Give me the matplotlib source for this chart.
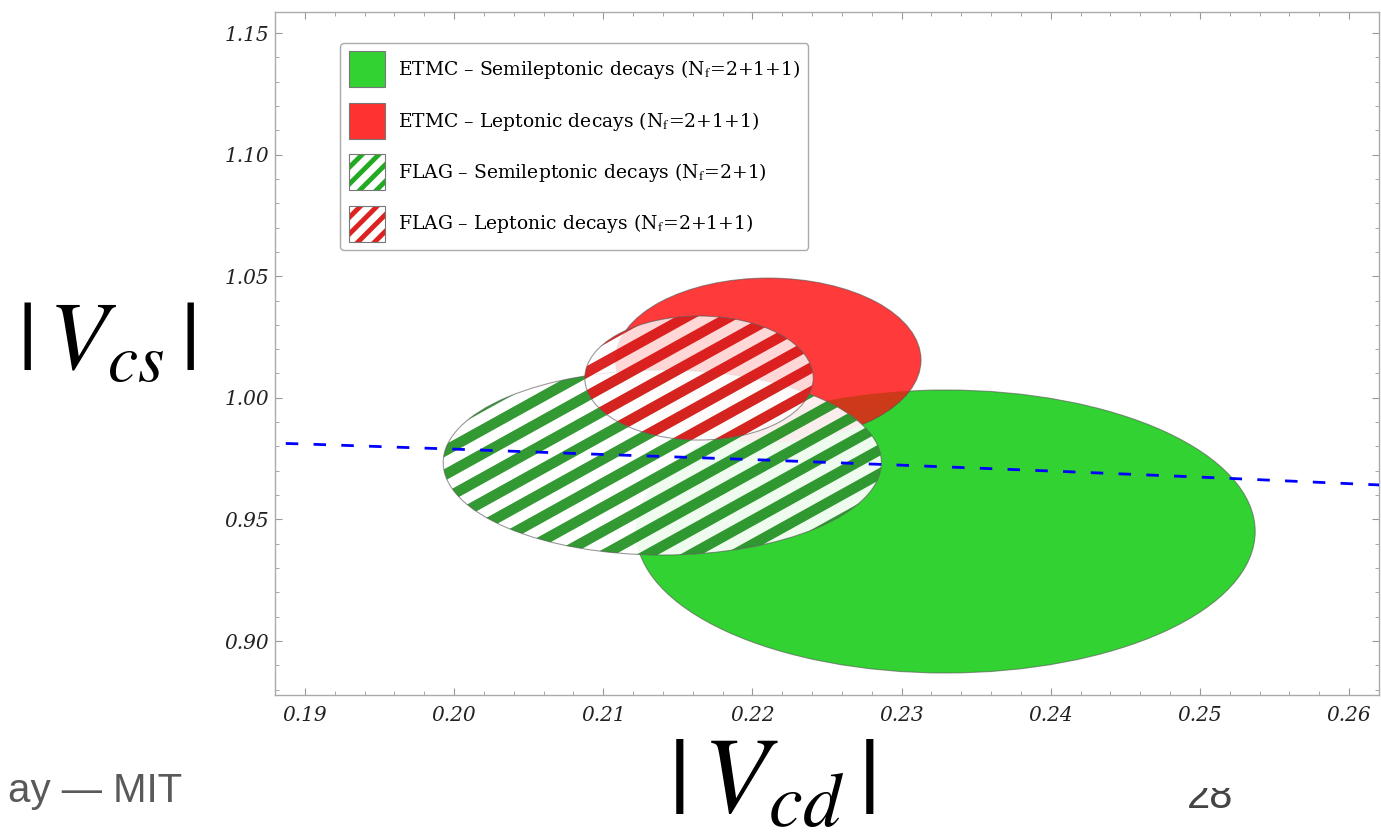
import matplotlib
matplotlib.use("Agg")
import matplotlib.pyplot as plt
import numpy as np
from matplotlib.patches import Ellipse, Patch
from matplotlib.collections import PolyCollection
from matplotlib.legend_handler import HandlerTuple
from matplotlib.transforms import Bbox

plt.rcParams["font.family"] = ["DejaVu Serif"]
plt.rcParams["mathtext.fontset"] = "stix"
plt.rcParams["hatch.linewidth"] = 3.5

# ellipses: centre (|Vcd|, |Vcs|) and full widths / heights
labels = [
    "ETMC \u2013 Semileptonic decays (N$_{\\rm f}$=2+1+1)",
    "ETMC \u2013 Leptonic decays (N$_{\\rm f}$=2+1+1)",
    "FLAG \u2013 Semileptonic decays (N$_{\\rm f}$=2+1)",
    "FLAG \u2013 Leptonic decays (N$_{\\rm f}$=2+1+1)",
]
vcd_c = [0.23295, 0.22106, 0.21396, 0.21642]
vcs_c = [0.94503, 1.01554, 0.97340, 1.00814]
vcd_w = [0.04150, 0.02048, 0.02937, 0.01531]
vcs_h = [0.11637, 0.06740, 0.07607, 0.05100]
hatched = [False, False, True, True]

# unitarity line
line_vcd = [0.185, 0.19, 0.20, 0.21, 0.22, 0.23, 0.24, 0.25, 0.26, 0.265]
line_vcs = [0.9819, 0.9810, 0.9789, 0.9767, 0.9746, 0.9723, 0.9699, 0.9674, 0.9647, 0.9634]

xticks = [0.19, 0.20, 0.21, 0.22, 0.23, 0.24, 0.25, 0.26]
yticks = [0.90, 0.95, 1.00, 1.05, 1.10, 1.15]

solid_colors = ["#32d232", "#ff3232"]
solid_alpha = [1.0, 0.96]
overlap_color = "#cc3a1a"
stripe_colors = ["#008000", "#d60000"]
stripe_alpha = [0.8, 0.85]
white_alpha = [0.92, 0.8]

fig = plt.figure(figsize=(13.81, 8.34), dpi=100)
ax = fig.add_axes([275 / 1381, 139 / 834, 1104 / 1381, 683 / 834])
ax.set_xlim(0.18854, 0.26172)
ax.set_ylim(0.87780, 1.15864)

bb = ax.get_window_extent()
W, H = bb.width, bb.height


def stripes(period=21.0, width=10.5, angle=29.0):
    # parallel bands built in pixels, handed over in axes fraction
    th = np.radians(angle)
    u = np.array([np.cos(th), np.sin(th)])
    n = np.array([-np.sin(th), np.cos(th)])
    L = 3000.0
    polys = []
    for k in range(-120, 120):
        s0, s1 = k * period, k * period + width
        pts = [n * s0 - u * L, n * s0 + u * L, n * s1 + u * L, n * s1 - u * L]
        polys.append([(p[0] / W, p[1] / H) for p in pts])
    return polys


def outline(i):
    ax.add_patch(Ellipse((vcd_c[i], vcs_c[i]), vcd_w[i], vcs_h[i],
                         facecolor="none", edgecolor="#555555",
                         lw=0.8, alpha=0.6, zorder=2 + i))


hi = 0
for i in range(len(vcd_c)):
    if not hatched[i]:
        e = Ellipse((vcd_c[i], vcs_c[i]), vcd_w[i], vcs_h[i],
                    facecolor=solid_colors[i], alpha=solid_alpha[i],
                    edgecolor="none", zorder=2 + i)
        ax.add_patch(e)
        if i == 1:
            # darker where the two ETMC regions overlap
            ov = Ellipse((vcd_c[0], vcs_c[0]), vcd_w[0], vcs_h[0],
                         facecolor=overlap_color, edgecolor="none", zorder=2 + i)
            ax.add_patch(ov)
            ov.set_clip_path(e)
        outline(i)
    else:
        e = Ellipse((vcd_c[i], vcs_c[i]), vcd_w[i], vcs_h[i],
                    facecolor="white", alpha=white_alpha[hi],
                    edgecolor="none", zorder=2 + i)
        ax.add_patch(e)
        pc = PolyCollection(stripes(), transform=ax.transAxes,
                            facecolor=stripe_colors[hi], alpha=stripe_alpha[hi],
                            edgecolor="none", zorder=2 + i)
        ax.add_collection(pc)
        pc.set_clip_path(e)
        outline(i)
        hi += 1

ax.plot(line_vcd, line_vcs, color="#0000ff", lw=2.0, dashes=(4.5, 5.5), zorder=10)

ax.set_xticks(xticks, [f"{v:.2f}" for v in xticks])
ax.set_yticks(yticks, [f"{v:.2f}" for v in yticks])
ax.set_xticks(np.arange(0.188, 0.262, 0.002), minor=True)
ax.set_yticks(np.arange(0.88, 1.16, 0.01), minor=True)
ax.tick_params(which="both", direction="in", top=True, right=True,
               color="#999999", labelsize=14.5, labelcolor="#222222")
ax.tick_params(which="major", length=5, width=0.8)
ax.tick_params(which="minor", length=3, width=0.6)
ax.tick_params(axis="x", pad=8)
ax.tick_params(axis="y", pad=4)
for lbl in ax.get_xticklabels() + ax.get_yticklabels():
    lbl.set_fontstyle("italic")
for sp in ax.spines.values():
    sp.set_color("#aaaaaa")
    sp.set_linewidth(1.0)

# legend
handles = [
    Patch(facecolor=solid_colors[0], edgecolor="#777777", lw=0.8),
    Patch(facecolor=solid_colors[1], edgecolor="#777777", lw=0.8),
    (Patch(facecolor="white", edgecolor="#22aa22", hatch="//", lw=0),
     Patch(facecolor="none", edgecolor="#777777", lw=0.8)),
    (Patch(facecolor="white", edgecolor="#dd2222", hatch="//", lw=0),
     Patch(facecolor="none", edgecolor="#777777", lw=0.8)),
]
leg = ax.legend(handles, labels, loc="upper left",
                bbox_to_anchor=(0.059, 0.9546), borderaxespad=0,
                fontsize=13.5, handlelength=1.92, handleheight=2.58,
                labelspacing=0.82, handletextpad=0.7, borderpad=0.45,
                fancybox=True, framealpha=1, edgecolor="#aaaaaa",
                handler_map={tuple: HandlerTuple(ndivide=1, pad=0)})
leg.set_zorder(20)
leg.get_frame().set_linewidth(1.0)

# slide text around the plot
fig.text(106 / 1381, 1 - 343 / 834, r"$|\,V_{cs}\,|$", fontsize=70,
         ha="center", va="center")
fig.text(771 / 1381, 1 - 783 / 834, r"$|\,V_{cd}\,|$", fontsize=78,
         ha="center", va="center")
fig.text(182 / 1381, 1 - 802 / 834, "ay \u2014 MIT", fontsize=29,
         family=["Liberation Sans", "DejaVu Sans"], color="#595959",
         ha="right", va="baseline")
pg = fig.text(1210 / 1381, 1 - 808 / 834, "28", fontsize=30,
              family=["Liberation Sans", "DejaVu Sans"], color="#444444",
              ha="center", va="baseline")
pg.set_clip_box(Bbox([[0, 0], [1381, 834 - 788]]))
pg.set_clip_on(True)

fig.savefig("out.png", dpi=100)
